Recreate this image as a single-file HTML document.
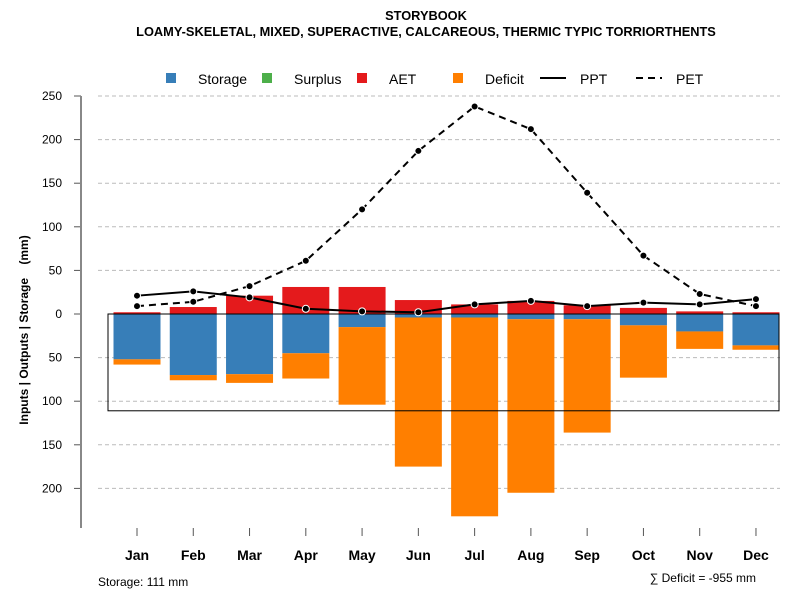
<!DOCTYPE html>
<html><head><meta charset="utf-8"><style>
body{margin:0;background:#fff;font-family:"Liberation Sans",sans-serif}
svg text{font-family:"Liberation Sans",sans-serif}
</style></head><body>
<svg id="c" width="800" height="600" xmlns="http://www.w3.org/2000/svg">
<text x="426" y="20" text-anchor="middle" font-size="12.8" font-weight="bold">STORYBOOK</text>
<text x="426" y="36" text-anchor="middle" font-size="12.8" font-weight="bold">LOAMY-SKELETAL, MIXED, SUPERACTIVE, CALCAREOUS, THERMIC TYPIC TORRIORTHENTS</text>
<g id="legend">
<rect x="166" y="73" width="10" height="10" fill="#377eb8"/>
<text x="198" y="84" font-size="14">Storage</text>
<rect x="262" y="73" width="10" height="10" fill="#4daf4a"/>
<text x="294" y="84" font-size="14">Surplus</text>
<rect x="357" y="73" width="10" height="10" fill="#e41a1c"/>
<text x="389" y="84" font-size="14">AET</text>
<rect x="453" y="73" width="10" height="10" fill="#ff7f00"/>
<text x="485" y="84" font-size="14">Deficit</text>
<line x1="540" y1="78" x2="566" y2="78" stroke="#000" stroke-width="2"/>
<text x="580" y="84" font-size="14">PPT</text>
<line x1="636" y1="78" x2="662" y2="78" stroke="#000" stroke-width="2" stroke-dasharray="7,5"/>
<text x="676" y="84" font-size="14">PET</text>
</g>
<text transform="translate(28,330) rotate(-90)" text-anchor="middle" font-size="12" font-weight="bold" xml:space="preserve">Inputs | Outputs | Storage    (mm)</text>
<text x="98" y="586" font-size="12">Storage: 111 mm</text>
<text x="756" y="582" text-anchor="end" font-size="12">∑ Deficit = -955 mm</text>
</svg>
<script>
const months=["Jan","Feb","Mar","Apr","May","Jun","Jul","Aug","Sep","Oct","Nov","Dec"];
const storageUse=[52,70,69,45,15,4,4,6,6,13,20,36];
const deficit=[6,6,10,29,89,171,228,199,130,60,20,5];
const aet=[2,8,21,31,31,16,11,15,10,7,3,2];
const ppt=[21,26,19,6,3,2,11,15,9,13,11,17];
const pet=[9,14,32,61,120,187,238,212,139,67,23,9];
const yTicks=[250,200,150,100,50,0,-50,-100,-150,-200];
const storageCap=111;
const svg=document.getElementById('c');
const NS="http://www.w3.org/2000/svg";
const y=v=>314-v*0.872;
const x=i=>137+i*56.27;
const bw=47;
function mk(t,a,p){const e=document.createElementNS(NS,t);for(const k in a)e.setAttribute(k,a[k]);(p||svg).appendChild(e);return e;}
yTicks.forEach(v=>{
 if(v!==0){const g=mk('line',{x1:98,x2:780,y1:y(v),y2:y(v),stroke:'#bbb','stroke-dasharray':'4,3'});
 
 }
 const t=mk('line',{x1:74,x2:81,y1:y(v),y2:y(v),stroke:'#555'});
 
 
 const l=mk('text',{x:62,y:y(v)+4,'text-anchor':'end','font-size':12});l.textContent=Math.abs(v);
 
 
});
const ax=mk('line',{x1:81,x2:81,y1:y(250),y2:528,stroke:'#888','stroke-width':2});


months.forEach((m,i)=>{
 const cx=x(i);
 const b1=mk('rect',{x:cx-bw/2,y:y(0),width:bw,height:storageUse[i]*0.872,fill:'#377eb8'});
 
 
 const b2=mk('rect',{x:cx-bw/2,y:y(-storageUse[i]),width:bw,height:deficit[i]*0.872,fill:'#ff7f00'});
 
 
 const b3=mk('rect',{x:cx-bw/2,y:y(aet[i]),width:bw,height:aet[i]*0.872,fill:'#e41a1c'});
 
 
 const tk=mk('line',{x1:cx,x2:cx,y1:528,y2:536,stroke:'#555'});
 
 
 const lb=mk('text',{x:cx,y:560,'text-anchor':'middle','font-size':14,'font-weight':'bold'});lb.textContent=m;
 
 
});
const zl=mk('line',{x1:108,x2:779,y1:y(0),y2:y(0),stroke:'#000'});


const box=mk('rect',{x:108,y:y(0),width:671,height:storageCap*0.872,fill:'none',stroke:'#000'});


function series(vals,name,dash){
 const p=mk('polyline',{points:vals.map((v,i)=>x(i)+','+y(v)).join(' '),fill:'none',stroke:'#000','stroke-width':2,'stroke-dasharray':dash});
 
 
 vals.forEach((v,i)=>{const c=mk('circle',{cx:x(i),cy:y(v),r:3.5,fill:'#000',stroke:'#fff','stroke-width':1});
 
 });
}
series(ppt,'ppt','none');
series(pet,'pet','7,5');
</script>
</body></html>
